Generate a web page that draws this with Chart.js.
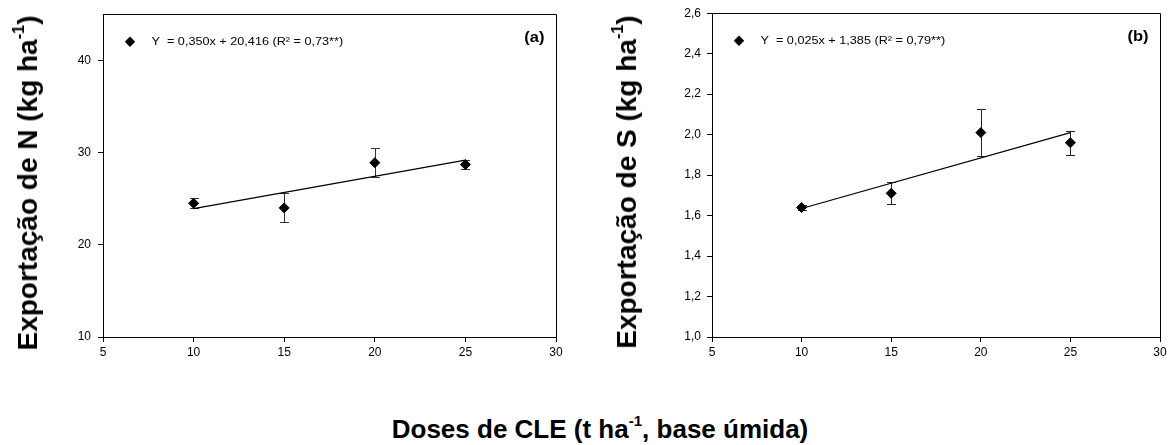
<!DOCTYPE html>
<html>
<head>
<meta charset="utf-8">
<script src="https://cdn.jsdelivr.net/npm/chart.js@4.4.1/dist/chart.umd.min.js"></script>
<style>
html,body{margin:0;padding:0;background:#fff;width:1172px;height:445px;overflow:hidden;font-family:"Liberation Sans",Arial,Helvetica,sans-serif;}
#wrapA{position:absolute;left:0;top:0;width:580px;height:380px;}
#wrapB{position:absolute;left:580px;top:0;width:592px;height:380px;}
canvas{display:block;}
.ytitle{position:absolute;font-weight:bold;font-size:28px;line-height:28px;white-space:nowrap;color:#000;transform:translate(-50%,-50%) rotate(-90deg);}
.xtitle{position:absolute;font-weight:bold;font-size:26px;line-height:26px;white-space:nowrap;color:#000;transform:translate(-50%,-50%);}
sup{font-size:58%;line-height:0;position:relative;top:-0.15em;vertical-align:super;}
</style>
</head>
<body>
<div id="wrapA"><canvas id="chartA" width="580" height="380"></canvas></div>
<div id="wrapB"><canvas id="chartB" width="592" height="380"></canvas></div>
<div class="ytitle" style="left:28px;top:183px;">Exportação de N (kg ha<sup>-1</sup>)</div>
<div class="ytitle" style="left:627px;top:182px;">Exportação de S (kg ha<sup>-1</sup>)</div>
<div class="xtitle" style="left:600px;top:429px;">Doses de CLE (t ha<sup>-1</sup>, base úmida)</div>
<script>
// ---------- data ----------
const doses = [10, 15, 20, 25];
const xTicks = [5, 10, 15, 20, 25, 30];

// (a) N export
const meanN = [24.5, 24.0, 28.9, 28.7];
const errN  = [0.53, 1.57, 1.55, 0.48];
const fitN  = [{x: 10, y: 23.92}, {x: 25, y: 29.17}];
const yTicksN = [10, 20, 30, 40];
const yLabelsN = ['10', '20', '30', '40'];
const legendN = 'Y  = 0,350x + 20,416 (R\u00B2 = 0,73**)';

// (b) S export
const meanS = [1.64, 1.71, 2.01, 1.96];
const errS  = [0.01, 0.055, 0.115, 0.06];
const fitS  = [{x: 10, y: 1.635}, {x: 25, y: 2.01}];
const yTicksS = [1.0, 1.2, 1.4, 1.6, 1.8, 2.0, 2.2, 2.4, 2.6];
const yLabelsS = ['1,0', '1,2', '1,4', '1,6', '1,8', '2,0', '2,2', '2,4', '2,6'];
const legendS = 'Y  = 0,025x + 1,385 (R\u00B2 = 0,79**)';

// ---------- drawing ----------
const FONT = '"Liberation Sans", Arial, Helvetica, sans-serif';

function drawDiamond(ctx, cx, cy, r) {
  ctx.beginPath();
  ctx.moveTo(cx, cy - r);
  ctx.lineTo(cx + r, cy);
  ctx.lineTo(cx, cy + r);
  ctx.lineTo(cx - r, cy);
  ctx.closePath();
  ctx.fill();
}

const decor = {
  id: 'decor',
  beforeDatasetsDraw(chart, args, o) {
    const {ctx, scales: {x, y}} = chart;
    ctx.save();
    ctx.strokeStyle = o.errColor;
    ctx.lineWidth = 1;
    o.xs.forEach((xv, i) => {
      const px = Math.round(x.getPixelForValue(xv)) + 0.5;
      const pt = Math.round(y.getPixelForValue(o.mean[i] + o.err[i])) + 0.5;
      const pb = Math.round(y.getPixelForValue(o.mean[i] - o.err[i])) + 0.5;
      ctx.beginPath();
      ctx.moveTo(px, pt); ctx.lineTo(px, pb);
      ctx.moveTo(px - 4.5, pt); ctx.lineTo(px + 4.5, pt);
      ctx.moveTo(px - 4.5, pb); ctx.lineTo(px + 4.5, pb);
      ctx.stroke();
    });
    ctx.restore();
  },
  afterDraw(chart, args, o) {
    const {ctx, chartArea: a} = chart;
    ctx.save();
    // frame
    ctx.strokeStyle = '#000';
    ctx.lineWidth = 1;
    const l = Math.round(a.left) + 0.5, t = Math.round(a.top) + 0.5;
    const r = Math.round(a.right) + 0.5, b = Math.round(a.bottom) + 0.5;
    ctx.beginPath();
    ctx.moveTo(l, b); ctx.lineTo(l, t); ctx.lineTo(r, t); ctx.lineTo(r, b);
    ctx.stroke();
    // legend
    ctx.fillStyle = '#000';
    drawDiamond(ctx, a.left + 27, a.top + 27.5, 5.2);
    ctx.font = '11px ' + FONT;
    ctx.textBaseline = 'middle';
    ctx.textAlign = 'left';
    ctx.save();
    ctx.translate(a.left + 48.5, a.top + 27.5);
    ctx.scale(1.15, 1);
    ctx.fillText(o.legend, 0, 0);
    ctx.restore();
    // panel label
    ctx.font = 'bold 15px ' + FONT;
    ctx.textAlign = 'right';
    ctx.save();
    ctx.translate(a.right - 11.5, a.top + 23.5);
    ctx.scale(1.1, 1);
    ctx.fillText(o.panel, 0, 0);
    ctx.restore();
    ctx.restore();
  }
};

function makeChart(id, c) {
  const tickFont = {family: FONT, size: 12};
  return new Chart(document.getElementById(id), {
    type: 'scatter',
    data: {
      datasets: [
        {
          type: 'line', label: 'fit', data: c.fit,
          borderColor: '#000', borderWidth: 1.2, pointRadius: 0, fill: false, order: 2
        },
        {
          label: c.legend,
          data: doses.map((d, i) => ({x: d, y: c.mean[i]})),
          pointStyle: 'rectRot', pointRadius: 5, pointHoverRadius: 5,
          backgroundColor: '#000', borderColor: '#000', borderWidth: 1, order: 1
        }
      ]
    },
    options: {
      responsive: false, animation: false, devicePixelRatio: 1,
      layout: {padding: {left: 0, top: 12, right: c.padRight, bottom: 0}},
      plugins: {
        legend: {display: false}, tooltip: {enabled: false},
        decor: {xs: doses, mean: c.mean, err: c.err, legend: c.legend, panel: c.panel, errColor: c.errColor}
      },
      scales: {
        x: {
          type: 'linear', min: 5, max: 30,
          afterBuildTicks: s => { s.ticks = xTicks.map(v => ({value: v})); },
          afterFit: s => { s.height = 43; },
          ticks: {font: tickFont, color: '#000', padding: 3, maxRotation: 0, callback: v => String(v)},
          grid: {drawOnChartArea: false, drawTicks: true, tickLength: 5, color: '#000'},
          border: {display: true, color: '#000', width: 1}
        },
        y: {
          type: 'linear', min: c.yMin, max: c.yMax,
          afterBuildTicks: s => { s.ticks = c.yTicks.map(v => ({value: v})); },
          afterFit: s => { s.width = c.yWidth; },
          ticks: {
            font: tickFont, color: '#000', padding: c.yPad,
            callback: (v) => { const k = c.yTicks.findIndex(t => Math.abs(t - v) < 1e-9); return k >= 0 ? c.yLabels[k] : ''; }
          },
          grid: {drawOnChartArea: false, drawTicks: true, tickLength: 5, color: '#000'},
          border: {display: true, color: '#000', width: 1}
        }
      }
    },
    plugins: [decor]
  });
}

makeChart('chartA', {
  mean: meanN, err: errN, fit: fitN, yTicks: yTicksN, yLabels: yLabelsN,
  yMin: 10, yMax: 45, legend: legendN, panel: '(a)',
  yWidth: 103, padRight: 24, yPad: 7, errColor: '#333'
});
makeChart('chartB', {
  mean: meanS, err: errS, fit: fitS, yTicks: yTicksS, yLabels: yLabelsS,
  yMin: 1.0, yMax: 2.6, legend: legendS, panel: '(b)',
  yWidth: 132, padRight: 12, yPad: 6, errColor: '#222'
});
</script>
</body>
</html>
